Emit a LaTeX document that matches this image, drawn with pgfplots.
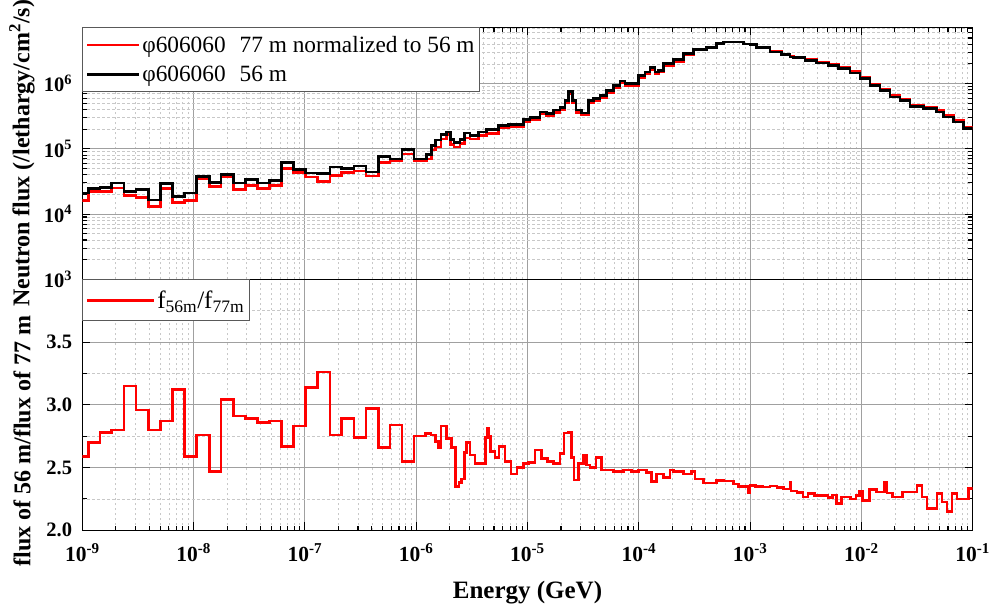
\documentclass[border=0pt]{standalone}
\usepackage{fontspec}
\setmainfont{Liberation Serif}
\usepackage{pgfplots}
\usepackage{pgfplotstable}
\pgfplotsset{compat=1.18}
\definecolor{majgrid}{RGB}{160,160,160}
\definecolor{mingrid}{RGB}{200,200,200}

\pgfplotstableread{
lx f
-9.000 2.09e4
-8.946 2.45e4
-8.841 2.54e4
-8.737 3.00e4
-8.626 2.22e4
-8.518 2.36e4
-8.407 1.65e4
-8.296 2.92e4
-8.192 1.86e4
-8.084 2.09e4
-7.973 3.80e4
-7.859 3.07e4
-7.754 4.08e4
-7.644 3.00e4
-7.536 3.37e4
-7.428 3.00e4
-7.320 3.30e4
-7.210 6.14e4
-7.105 4.83e4
-6.997 4.27e4
-6.886 4.15e4
-6.775 5.24e4
-6.671 4.94e4
-6.560 5.43e4
-6.452 4.40e4
-6.341 7.55e4
-6.237 7.03e4
-6.126 9.77e4
-6.018 7.03e4
-5.906 8.18e4
-5.861 1.12e5
-5.825 1.36e5
-5.777 1.66e5
-5.726 1.80e5
-5.690 1.39e5
-5.660 1.24e5
-5.607 1.39e5
-5.568 1.76e5
-5.517 1.60e5
-5.442 1.80e5
-5.367 1.98e5
-5.262 2.28e5
-5.173 2.36e5
-5.038 2.81e5
-4.978 3.02e5
-4.888 3.68e5
-4.828 3.48e5
-4.768 3.91e5
-4.708 4.30e5
-4.663 5.56e5
-4.633 7.64e5
-4.594 5.56e5
-4.564 3.91e5
-4.513 3.56e5
-4.454 5.56e5
-4.409 5.89e5
-4.349 6.62e5
-4.288 7.91e5
-4.229 9.42e5
-4.169 1.10e6
-4.124 1.00e6
-4.004 1.34e6
-3.944 1.51e6
-3.899 1.76e6
-3.855 1.51e6
-3.825 1.60e6
-3.780 2.02e6
-3.690 2.33e6
-3.600 2.88e6
-3.510 3.31e6
-3.390 3.56e6
-3.300 4.09e6
-3.241 4.35e6
-3.061 4.05e6
-3.001 3.95e6
-2.941 3.56e6
-2.821 3.05e6
-2.716 2.81e6
-2.642 2.56e6
-2.612 2.50e6
-2.507 2.28e6
-2.402 2.07e6
-2.297 1.91e6
-2.208 1.70e6
-2.102 1.46e6
-2.013 1.19e6
-1.923 9.42e5
-1.833 7.91e5
-1.743 6.25e5
-1.653 5.56e5
-1.563 4.50e5
-1.444 4.14e5
-1.324 3.68e5
-1.264 3.09e5
-1.174 2.59e5
-1.085 2.05e5
-1.000 2.05e5
}\blackdata

\pgfplotstableread{
lx f
-9.000 1.61e4
-8.946 2.22e4
-8.841 2.22e4
-8.737 2.51e4
-8.626 1.91e4
-8.518 1.79e4
-8.407 1.30e4
-8.296 2.45e4
-8.192 1.50e4
-8.084 1.61e4
-7.973 3.46e4
-7.859 2.66e4
-7.754 3.80e4
-7.644 2.36e4
-7.536 2.72e4
-7.428 2.45e4
-7.320 2.72e4
-7.210 5.00e4
-7.105 4.34e4
-6.997 3.72e4
-6.886 3.16e4
-6.775 3.91e4
-6.671 4.30e4
-6.560 4.55e4
-6.452 3.82e4
-6.341 6.11e4
-6.237 6.47e4
-6.126 8.28e4
-6.018 6.62e4
-5.906 7.03e4
-5.861 9.55e4
-5.825 1.07e5
-5.777 1.42e5
-5.726 1.66e5
-5.690 1.16e5
-5.660 1.07e5
-5.607 1.21e5
-5.568 1.47e5
-5.517 1.42e5
-5.442 1.60e5
-5.367 1.72e5
-5.262 2.09e5
-5.173 2.17e5
-5.038 2.56e5
-4.978 2.82e5
-4.888 3.40e5
-4.828 3.20e5
-4.768 3.60e5
-4.708 3.95e5
-4.663 5.10e5
-4.633 6.90e5
-4.594 5.10e5
-4.564 3.60e5
-4.513 3.28e5
-4.454 5.10e5
-4.409 5.45e5
-4.349 6.10e5
-4.288 7.30e5
-4.229 8.70e5
-4.169 1.02e6
-4.124 9.30e5
-4.004 1.25e6
-3.944 1.42e6
-3.899 1.65e6
-3.855 1.42e6
-3.825 1.50e6
-3.780 1.90e6
-3.690 2.20e6
-3.600 2.78e6
-3.510 3.25e6
-3.390 3.52e6
-3.300 4.07e6
-3.241 4.35e6
-3.061 4.05e6
-3.001 3.98e6
-2.941 3.60e6
-2.821 3.10e6
-2.716 2.86e6
-2.642 2.62e6
-2.612 2.56e6
-2.507 2.36e6
-2.402 2.14e6
-2.297 1.98e6
-2.208 1.77e6
-2.102 1.52e6
-2.013 1.24e6
-1.923 9.80e5
-1.833 8.25e5
-1.743 6.50e5
-1.653 5.78e5
-1.563 4.68e5
-1.444 4.31e5
-1.324 3.83e5
-1.264 3.21e5
-1.174 2.70e5
-1.085 2.13e5
-1.000 2.13e5
}\reddata

\pgfplotstableread{
lx r
-9.000 2.59
-8.946 2.70
-8.841 2.78
-8.737 2.80
-8.626 3.15
-8.518 2.96
-8.407 2.80
-8.296 2.87
-8.192 3.12
-8.084 2.59
-7.973 2.76
-7.859 2.47
-7.754 3.04
-7.644 2.91
-7.536 2.89
-7.428 2.86
-7.320 2.87
-7.210 2.67
-7.105 2.83
-6.997 3.14
-6.886 3.26
-6.775 2.76
-6.671 2.89
-6.560 2.74
-6.452 2.97
-6.341 2.66
-6.237 2.84
-6.126 2.55
-6.018 2.75
-5.915 2.77
-5.867 2.76
-5.825 2.71
-5.801 2.66
-5.777 2.83
-5.726 2.73
-5.681 2.66
-5.645 2.35
-5.616 2.38
-5.591 2.41
-5.568 2.62
-5.546 2.70
-5.517 2.60
-5.472 2.53
-5.376 2.74
-5.358 2.815
-5.346 2.75
-5.334 2.63
-5.292 2.58
-5.256 2.67
-5.202 2.55
-5.148 2.45
-5.094 2.50
-5.038 2.53
-4.993 2.54
-4.933 2.64
-4.872 2.57
-4.822 2.55
-4.768 2.53
-4.708 2.61
-4.672 2.775
-4.633 2.78
-4.603 2.58
-4.582 2.40
-4.544 2.53
-4.499 2.60
-4.468 2.52
-4.438 2.50
-4.385 2.58
-4.333 2.48
-4.289 2.48
-4.229 2.47
-4.139 2.48
-4.064 2.47
-4.004 2.48
-3.929 2.46
-3.884 2.39
-3.839 2.45
-3.780 2.42
-3.720 2.48
-3.690 2.47
-3.600 2.45
-3.525 2.47
-3.495 2.41
-3.420 2.378
-3.300 2.397
-3.240 2.392
-3.150 2.370
-3.106 2.349
-3.016 2.300
-3.001 2.357
-2.950 2.350
-2.884 2.344
-2.820 2.352
-2.758 2.339
-2.700 2.330
-2.642 2.384
-2.633 2.312
-2.580 2.300
-2.525 2.265
-2.480 2.291
-2.420 2.275
-2.354 2.278
-2.300 2.262
-2.260 2.280
-2.222 2.212
-2.180 2.265
-2.100 2.250
-2.050 2.275
-2.018 2.312
-1.991 2.238
-1.928 2.323
-1.865 2.304
-1.790 2.384
-1.770 2.296
-1.720 2.265
-1.630 2.304
-1.500 2.357
-1.455 2.265
-1.410 2.172
-1.320 2.291
-1.275 2.225
-1.230 2.151
-1.185 2.291
-1.140 2.251
-1.040 2.331
-1.000 2.331
}\ratiodata

\pgfplotsset{
 panel/.style={
  scale only axis, width=890.4pt,
  xmin=-9, xmax=-1,
  xtick={-9,-8,...,-1},
  minor xtick={-8.699,-8.523,-8.398,-8.301,-8.222,-8.155,-8.097,-8.046,
   -7.699,-7.523,-7.398,-7.301,-7.222,-7.155,-7.097,-7.046,
   -6.699,-6.523,-6.398,-6.301,-6.222,-6.155,-6.097,-6.046,
   -5.699,-5.523,-5.398,-5.301,-5.222,-5.155,-5.097,-5.046,
   -4.699,-4.523,-4.398,-4.301,-4.222,-4.155,-4.097,-4.046,
   -3.699,-3.523,-3.398,-3.301,-3.222,-3.155,-3.097,-3.046,
   -2.699,-2.523,-2.398,-2.301,-2.222,-2.155,-2.097,-2.046,
   -1.699,-1.523,-1.398,-1.301,-1.222,-1.155,-1.097,-1.046},
  grid=both,
  major grid style={majgrid, line width=0.9pt},
  minor grid style={mingrid, line width=0.7pt, dash pattern=on 2.5pt off 2.5pt},
  tick align=inside,
  major tick length=8pt, minor tick length=4.5pt,
  every tick/.style={black, line width=1.1pt},
  axis line style={line width=1.3pt},
  ytick pos=both, yticklabel pos=left,
  y tick label style={font=\fontsize{20.5}{22}\selectfont\bfseries, anchor=east, inner sep=0pt, xshift=-10pt},
  x tick label style={font=\fontsize{21.5}{23}\selectfont\bfseries, anchor=base, inner sep=0pt, yshift=-31pt},
  ylabel style={font=\fontsize{24}{26}\selectfont\bfseries, anchor=center},
  xlabel style={font=\fontsize{25}{27}\selectfont\bfseries, anchor=base},
  legend cell align=left,
 }
}

\begin{document}
\begin{tikzpicture}
\useasboundingbox (-82.3pt,-78pt) rectangle (909.7pt,530.3pt);

\begin{axis}[panel, at={(0pt,251pt)}, anchor=south west, height=251.8pt,
  ymode=log, ymin=1000, ymax=7.24e6,
  ytick={1e3,1e4,1e5,1e6},
  yticklabels={10\textsuperscript{3},10\textsuperscript{4},10\textsuperscript{5},10\textsuperscript{6}},
  minor ytick={2e3,3e3,4e3,5e3,6e3,7e3,8e3,9e3,2e4,3e4,4e4,5e4,6e4,7e4,8e4,9e4,
    2e5,3e5,4e5,5e5,6e5,7e5,8e5,9e5,2e6,3e6,4e6,5e6,6e6,7e6},
  xtick pos=right, xticklabels={},
  ylabel={Neutron flux (/lethargy/cm\textsuperscript{2}/s)},
  ylabel style={at={(axis description cs:-0.0677,0.5)}},
  legend style={at={(axis description cs:0,1)}, anchor=north west,
    draw=black!65, line width=0.9pt, fill=white,
    font=\fontsize{23.3}{25}\selectfont, inner xsep=3pt, inner ysep=2pt,
    row sep=0pt, nodes={inner xsep=2pt, inner ysep=6.2pt}},
  legend image code/.code={\draw[#1, line width=2.6pt] (0pt,0pt) -- (52pt,0pt);},
]
\addplot[const plot, red, line width=2.6pt] table[x=lx, y=f] {\reddata};
\addlegendentry{φ606060\hspace{0.6em}77 m normalized to 56 m}
\addplot[const plot, black, line width=2.6pt] table[x=lx, y=f] {\blackdata};
\addlegendentry{φ606060\hspace{0.6em}56 m}
\end{axis}

\begin{axis}[panel, at={(0pt,0pt)}, anchor=south west, height=251pt,
  ymin=2, ymax=4,
  ytick={2,2.5,3,3.5,4},
  yticklabels={2.0,2.5,3.0,3.5,{}},
  minor ytick={2.25,2.75,3.25,3.75},
  xtick pos=left,
  xticklabels={10\textsuperscript{-9},10\textsuperscript{-8},10\textsuperscript{-7},10\textsuperscript{-6},10\textsuperscript{-5},10\textsuperscript{-4},10\textsuperscript{-3},10\textsuperscript{-2},10\textsuperscript{-1}},
  xlabel={Energy (GeV)},
  xlabel style={at={(axis description cs:0.5,-0.271)}},
  ylabel={flux of 56 m/flux of 77 m},
  ylabel style={at={(axis description cs:-0.0677,0.355)}},
  legend style={at={(axis description cs:0,1)}, anchor=north west,
    draw=black!65, line width=0.9pt, fill=white,
    font=\fontsize{25}{27}\selectfont, inner xsep=3pt, inner ysep=1pt,
    nodes={inner xsep=2pt, inner ysep=10pt}},
  legend image code/.code={\path (0pt,0pt) -- (67pt,0pt);\draw[#1, line width=2.6pt] (0pt,0pt) -- (63pt,0pt);},
]
\addplot[const plot, red, line width=2.6pt] table[x=lx, y=r] {\ratiodata};
\addlegendentry{f\textsubscript{56m}/f\textsubscript{77m}}
\end{axis}
\end{tikzpicture}
\end{document}
